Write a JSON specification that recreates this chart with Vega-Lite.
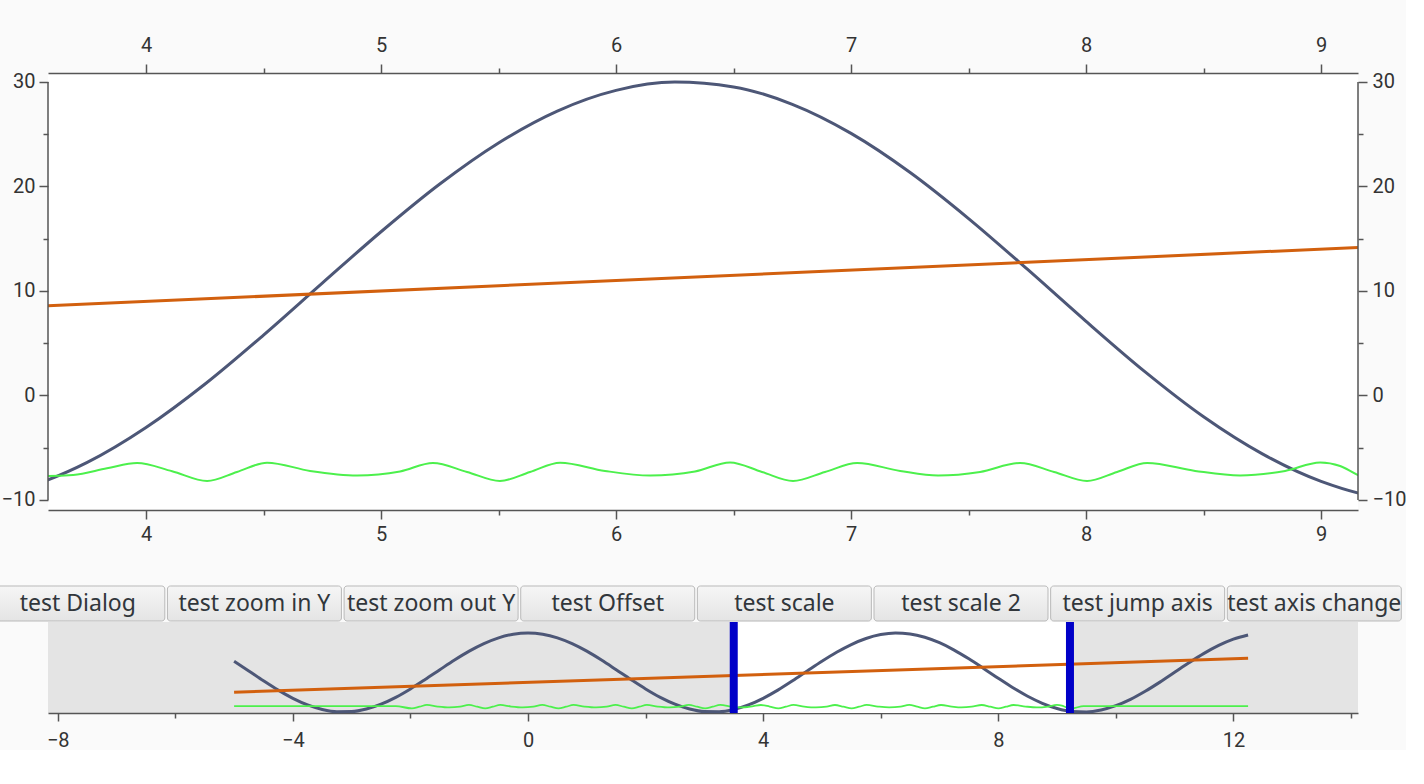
{
  "$schema": "https://vega.github.io/schema/vega-lite/v6.json",
  "background": "#fafafa",
  "padding": {"left": -10, "top": 35, "right": 0, "bottom": 0},
  "config": {
    "view": {"stroke": null},
    "axis": {
      "labelFont": "Roboto",
      "labelFontSize": 20,
      "labelColor": "#333333",
      "domainColor": "#555555",
      "tickColor": "#555555",
      "domainWidth": 1.5,
      "tickWidth": 1.5,
      "grid": false
    }
  },
  "datasets": {
    "cos": [
      {"x": -5, "y": 15.67}, {"x": -4.75, "y": 10.75}, {"x": -4.5, "y": 5.78}, {"x": -4.25, "y": 1.07},
      {"x": -4, "y": -3.07}, {"x": -3.75, "y": -6.41}, {"x": -3.5, "y": -8.73}, {"x": -3.25, "y": -9.88},
      {"x": -3, "y": -9.8}, {"x": -2.75, "y": -8.49}, {"x": -2.5, "y": -6.02}, {"x": -2.25, "y": -2.56},
      {"x": -2, "y": 1.68}, {"x": -1.75, "y": 6.44}, {"x": -1.5, "y": 11.41}, {"x": -1.25, "y": 16.31},
      {"x": -1, "y": 20.81}, {"x": -0.75, "y": 24.63}, {"x": -0.5, "y": 27.55}, {"x": -0.25, "y": 29.38},
      {"x": 0, "y": 30}, {"x": 0.25, "y": 29.38}, {"x": 0.5, "y": 27.55}, {"x": 0.75, "y": 24.63},
      {"x": 1, "y": 20.81}, {"x": 1.25, "y": 16.31}, {"x": 1.5, "y": 11.41}, {"x": 1.75, "y": 6.44},
      {"x": 2, "y": 1.68}, {"x": 2.25, "y": -2.56}, {"x": 2.5, "y": -6.02}, {"x": 2.75, "y": -8.49},
      {"x": 3, "y": -9.8}, {"x": 3.25, "y": -9.88}, {"x": 3.5, "y": -8.73}, {"x": 3.75, "y": -6.41},
      {"x": 4, "y": -3.07}, {"x": 4.25, "y": 1.07}, {"x": 4.5, "y": 5.78}, {"x": 4.75, "y": 10.75},
      {"x": 5, "y": 15.67}, {"x": 5.25, "y": 20.24}, {"x": 5.5, "y": 24.17}, {"x": 5.75, "y": 27.22},
      {"x": 6, "y": 29.2}, {"x": 6.25, "y": 29.99}, {"x": 6.5, "y": 29.53}, {"x": 6.75, "y": 27.86},
      {"x": 7, "y": 25.08}, {"x": 7.25, "y": 21.36}, {"x": 7.5, "y": 16.93}, {"x": 7.75, "y": 12.08},
      {"x": 8, "y": 7.09}, {"x": 8.25, "y": 2.28}, {"x": 8.5, "y": -2.04}, {"x": 8.75, "y": -5.59},
      {"x": 9, "y": -8.22}, {"x": 9.25, "y": -9.7}, {"x": 9.5, "y": -9.94}, {"x": 9.75, "y": -8.95},
      {"x": 10, "y": -6.78}, {"x": 10.25, "y": -3.57}, {"x": 10.5, "y": 0.49}, {"x": 10.75, "y": 5.13},
      {"x": 11, "y": 10.09}, {"x": 11.25, "y": 15.03}, {"x": 11.5, "y": 19.67}, {"x": 11.75, "y": 23.7},
      {"x": 12, "y": 26.88}, {"x": 12.25, "y": 29.01}
    ],
    "lin": [{"x": -5, "y": 0}, {"x": 12.25, "y": 17.25}],
    "wave": [
      {"x": -5, "y": -7.0}, {"x": -2.25, "y": -7.0},
      {"x": -1.975, "y": -8.18}, {"x": -1.845, "y": -7.32}, {"x": -1.72, "y": -6.43}, {"x": -1.535, "y": -7.22},
      {"x": -1.337, "y": -7.66}, {"x": -1.155, "y": -7.25}, {"x": -1.005, "y": -6.43}, {"x": -0.865, "y": -7.32},
      {"x": -0.728, "y": -8.18}, {"x": -0.598, "y": -7.32}, {"x": -0.473, "y": -6.43}, {"x": -0.288, "y": -7.22},
      {"x": -0.09, "y": -7.66}, {"x": 0.092, "y": -7.25}, {"x": 0.242, "y": -6.43}, {"x": 0.382, "y": -7.32},
      {"x": 0.519, "y": -8.18}, {"x": 0.649, "y": -7.32}, {"x": 0.774, "y": -6.43}, {"x": 0.959, "y": -7.22},
      {"x": 1.157, "y": -7.66}, {"x": 1.339, "y": -7.25}, {"x": 1.489, "y": -6.43}, {"x": 1.629, "y": -7.32},
      {"x": 1.766, "y": -8.18}, {"x": 1.896, "y": -7.32}, {"x": 2.021, "y": -6.43}, {"x": 2.206, "y": -7.22},
      {"x": 2.404, "y": -7.66}, {"x": 2.586, "y": -7.25}, {"x": 2.736, "y": -6.43}, {"x": 2.876, "y": -7.32},
      {"x": 3.013, "y": -8.18}, {"x": 3.143, "y": -7.32}, {"x": 3.268, "y": -6.43}, {"x": 3.453, "y": -7.22},
      {"x": 3.583, "y": -7.7}, {"x": 3.69, "y": -7.6}, {"x": 3.834, "y": -6.97}, {"x": 3.962, "y": -6.46},
      {"x": 4.111, "y": -7.25}, {"x": 4.26, "y": -8.18}, {"x": 4.387, "y": -7.32}, {"x": 4.515, "y": -6.43},
      {"x": 4.698, "y": -7.22}, {"x": 4.898, "y": -7.66}, {"x": 5.081, "y": -7.27}, {"x": 5.221, "y": -6.46},
      {"x": 5.366, "y": -7.32}, {"x": 5.506, "y": -8.18}, {"x": 5.634, "y": -7.32}, {"x": 5.762, "y": -6.43},
      {"x": 5.953, "y": -7.22}, {"x": 6.145, "y": -7.66}, {"x": 6.336, "y": -7.27}, {"x": 6.485, "y": -6.41},
      {"x": 6.621, "y": -7.32}, {"x": 6.753, "y": -8.18}, {"x": 6.889, "y": -7.32}, {"x": 7.026, "y": -6.46},
      {"x": 7.209, "y": -7.22}, {"x": 7.37, "y": -7.66}, {"x": 7.549, "y": -7.32}, {"x": 7.719, "y": -6.46},
      {"x": 7.864, "y": -7.32}, {"x": 8.004, "y": -8.18}, {"x": 8.132, "y": -7.32}, {"x": 8.26, "y": -6.46},
      {"x": 8.464, "y": -7.22}, {"x": 8.655, "y": -7.66}, {"x": 8.847, "y": -7.22}, {"x": 8.996, "y": -6.41},
      {"x": 9.081, "y": -6.75}, {"x": 9.157, "y": -7.61}, {"x": 9.25, "y": -8.18}, {"x": 9.45, "y": -7.0},
      {"x": 12.25, "y": -7.0}
    ],
    "window": [{"start": 3.5, "end": 9.22}],
    "buttons": [
      {"i": 0, "label": "test Dialog"},
      {"i": 1, "label": "test zoom in Y"},
      {"i": 2, "label": "test zoom out Y"},
      {"i": 3, "label": "test Offset"},
      {"i": 4, "label": "test scale"},
      {"i": 5, "label": "test scale 2"},
      {"i": 6, "label": "test jump axis"},
      {"i": 7, "label": "test axis change"}
    ]
  },
  "bounds": "flush",
  "spacing": 76,
  "vconcat": [
    {
      "width": 1310,
      "height": 437,
      "view": {"fill": "#ffffff", "stroke": null},
      "layer": [
        {
          "data": {"name": "cos"},
          "mark": {"type": "line", "color": "#4d5777", "strokeWidth": 3, "clip": true, "interpolate": "monotone"},
          "encoding": {
            "x": {"field": "x", "type": "quantitative", "title": null,
              "scale": {"domain": [3.583, 9.157], "nice": false, "zero": false},
              "axis": {"orient": "bottom", "values": [4, 4.5, 5, 5.5, 6, 6.5, 7, 7.5, 8, 8.5, 9],
                "labelExpr": "datum.value % 1 === 0 ? format(datum.value, 'd') : ''",
                "tickSize": {"condition": {"test": "datum.value % 1 !== 0", "value": 5}, "value": 9},
                "labelPadding": 5, "labelFlush": false}},
            "y": {"field": "y", "type": "quantitative", "title": null,
              "scale": {"domain": [-10.96, 30.86], "nice": false, "zero": false},
              "axis": {"orient": "left", "values": [-10, -5, 0, 5, 10, 15, 20, 25, 30], "domain": false,
                "labelExpr": "datum.value % 10 === 0 ? format(datum.value, 'd') : ''",
                "tickSize": {"condition": {"test": "datum.value % 10 !== 0", "value": 5}, "value": 9},
                "labelPadding": 4, "labelFlush": false}}
          }
        },
        {
          "data": {"name": "lin"},
          "mark": {"type": "line", "color": "#d2600e", "strokeWidth": 3, "clip": true},
          "encoding": {
            "x": {"field": "x", "type": "quantitative", "title": null,
              "axis": {"orient": "top", "values": [4, 4.5, 5, 5.5, 6, 6.5, 7, 7.5, 8, 8.5, 9],
                "labelExpr": "datum.value % 1 === 0 ? format(datum.value, 'd') : ''",
                "tickSize": {"condition": {"test": "datum.value % 1 !== 0", "value": 5}, "value": 9},
                "labelPadding": 9, "labelFlush": false}},
            "y": {"field": "y", "type": "quantitative", "title": null,
              "axis": {"orient": "right", "values": [-10, -5, 0, 5, 10, 15, 20, 25, 30], "domain": false,
                "labelExpr": "datum.value % 10 === 0 ? format(datum.value, 'd') : ''",
                "tickSize": {"condition": {"test": "datum.value % 10 !== 0", "value": 5}, "value": 9},
                "labelPadding": 5, "labelFlush": false}}
          }
        },
        {
          "data": {"name": "wave"},
          "mark": {"type": "line", "color": "#4cf04c", "strokeWidth": 2, "clip": true, "interpolate": "monotone"},
          "encoding": {
            "x": {"field": "x", "type": "quantitative", "title": null, "axis": null},
            "y": {"field": "y", "type": "quantitative", "title": null, "axis": null}
          }
        },
        {
          "data": {"values": [{}]},
          "mark": {"type": "rule", "color": "#555555", "strokeWidth": 1.5},
          "encoding": {
            "x": {"datum": 3.583, "type": "quantitative", "axis": null},
            "y": {"datum": -10, "type": "quantitative", "axis": null},
            "y2": {"datum": 30}
          }
        },
        {
          "data": {"values": [{}]},
          "mark": {"type": "rule", "color": "#555555", "strokeWidth": 1.5},
          "encoding": {
            "x": {"datum": 9.157, "type": "quantitative", "axis": null},
            "y": {"datum": -10, "type": "quantitative", "axis": null},
            "y2": {"datum": 30}
          }
        }
      ],
      "resolve": {"axis": {"x": "independent", "y": "independent"}}
    },
    {
      "bounds": "flush",
      "spacing": 1,
      "vconcat": [
        {
          "width": 1310,
          "height": 35,
          "data": {"name": "buttons"},
          "layer": [
            {
              "mark": {"type": "bar", "orient": "vertical", "width": 174, "cornerRadius": 3,
                "fill": {"gradient": "linear", "x1": 0, "y1": 0, "x2": 0, "y2": 1,
                  "stops": [{"offset": 0, "color": "#f6f6f6"}, {"offset": 1, "color": "#e4e4e4"}]},
                "stroke": "#b9b9b9", "strokeWidth": 1},
              "encoding": {
                "x": {"field": "i", "type": "quantitative", "title": null, "axis": null,
                  "scale": {"domain": [-0.1404, 7.2191], "nice": false, "zero": false}},
                "y": {"datum": 0, "type": "quantitative", "axis": null, "scale": {"domain": [0, 1], "nice": false}},
                "y2": {"datum": 1}
              }
            },
            {
              "mark": {"type": "text", "font": "Noto Sans", "fontSize": 23, "color": "#31363b", "align": "center", "baseline": "middle"},
              "encoding": {
                "x": {"field": "i", "type": "quantitative", "title": null, "axis": null},
                "y": {"datum": 0.5, "type": "quantitative", "axis": null},
                "text": {"field": "label"}
              }
            }
          ]
        },
        {
          "width": 1310,
          "height": 91,
          "view": {"fill": "#e4e4e4", "stroke": null},
          "layer": [
            {
              "data": {"name": "window"},
              "mark": {"type": "rect", "color": "#ffffff"},
              "encoding": {
                "x": {"field": "start", "type": "quantitative", "title": null,
                  "scale": {"domain": [-8.166, 14.12], "nice": false, "zero": false},
                  "axis": {"orient": "bottom", "values": [-8, -6, -4, -2, 0, 2, 4, 6, 8, 10, 12, 14],
                    "labelExpr": "datum.value % 4 === 0 ? format(datum.value, 'd') : ''",
                    "tickSize": {"condition": {"test": "datum.value % 4 !== 0", "value": 5}, "value": 8},
                    "labelPadding": 9, "labelFlush": false}},
                "x2": {"field": "end"}
              }
            },
            {
              "data": {"name": "cos"},
              "mark": {"type": "line", "color": "#4d5777", "strokeWidth": 3, "interpolate": "monotone"},
              "encoding": {
                "x": {"field": "x", "type": "quantitative", "title": null},
                "y": {"field": "y", "type": "quantitative", "title": null, "axis": null,
                  "scale": {"domain": [-10.5, 35.57], "nice": false, "zero": false}}
              }
            },
            {
              "data": {"name": "lin"},
              "mark": {"type": "line", "color": "#d2600e", "strokeWidth": 3},
              "encoding": {
                "x": {"field": "x", "type": "quantitative", "title": null},
                "y": {"field": "y", "type": "quantitative", "title": null, "axis": null}
              }
            },
            {
              "data": {"name": "wave"},
              "mark": {"type": "line", "color": "#4cf04c", "strokeWidth": 1.8, "interpolate": "monotone"},
              "encoding": {
                "x": {"field": "x", "type": "quantitative", "title": null},
                "y": {"field": "y", "type": "quantitative", "title": null, "axis": null}
              }
            },
            {
              "data": {"name": "window"},
              "mark": {"type": "rule", "color": "#0000c8", "strokeWidth": 8},
              "encoding": {"x": {"field": "start", "type": "quantitative", "title": null}}
            },
            {
              "data": {"name": "window"},
              "mark": {"type": "rule", "color": "#0000c8", "strokeWidth": 8},
              "encoding": {"x": {"field": "end", "type": "quantitative", "title": null}}
            }
          ]
        }
      ]
    }
  ]
}
